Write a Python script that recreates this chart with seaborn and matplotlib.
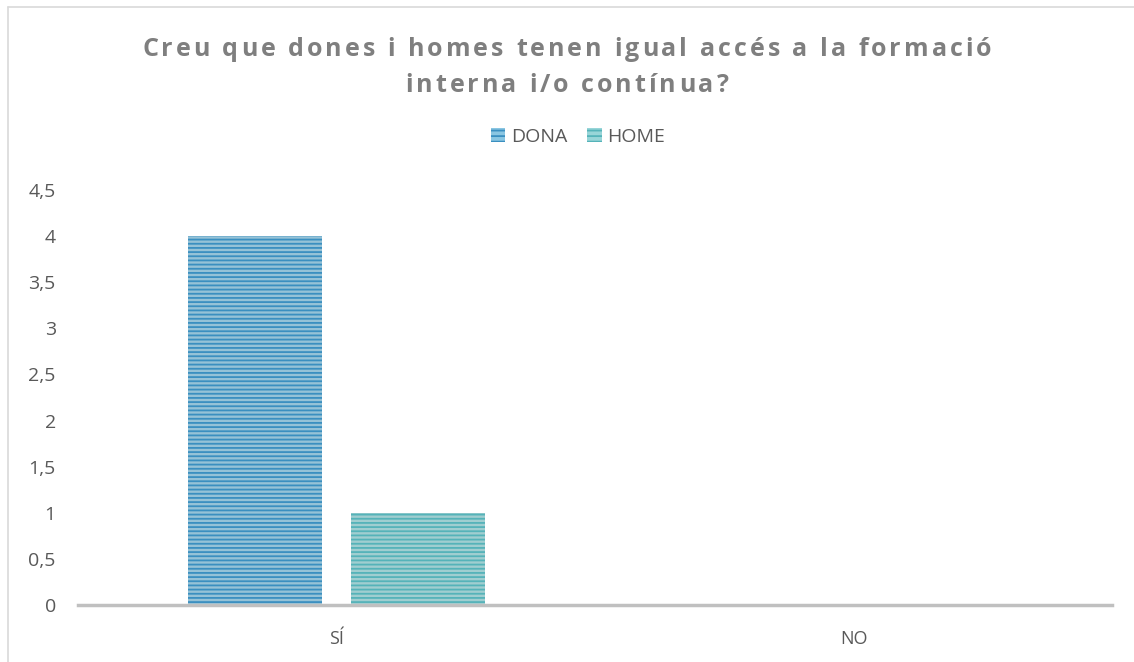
import matplotlib
matplotlib.use("Agg")
import matplotlib.pyplot as plt
import matplotlib.patches as mpatches
import seaborn as sns
import pandas as pd
from matplotlib.lines import Line2D
from matplotlib.ticker import FuncFormatter

categories = ["SÍ", "NO"]
dona = [4, 0]
home = [1, 0]
series_names = ["DONA", "HOME"]
title_lines = ["Creu que dones i homes tenen igual accés a la formació",
               "interna i/o contínua?"]

df = pd.DataFrame({
    "cat": categories * 2,
    "val": dona + home,
    "serie": [series_names[0]] * 2 + [series_names[1]] * 2,
})

sns.set_theme(style="white")
plt.rcParams["font.family"] = ["Open Sans", "DejaVu Sans"]
plt.rcParams["hatch.linewidth"] = 1.3

face = {"DONA": "#8ac6e2", "HOME": "#98d5d8"}
stripe = {"DONA": "#3a8fc0", "HOME": "#55b3b9"}

W, H = 1134, 662
fig = plt.figure(figsize=(W / 100, H / 100), dpi=100)
ax = fig.add_axes([78 / W, 1 - 605 / H, (1112 - 78) / W, (605 - 190) / H])

sns.barplot(data=df, x="cat", y="val", hue="serie", order=categories,
            hue_order=series_names, width=0.63, gap=0.18, ax=ax,
            palette=face, legend=False, errorbar=None)

for patch, s in zip(ax.patches, [series_names[0]] * 2 + [series_names[1]] * 2):
    patch.set_hatch("----")
    patch.set_edgecolor(stripe[s])
    patch.set_linewidth(0)

ax.set_ylim(0, 4.5)
ax.set_yticks([0, 0.5, 1, 1.5, 2, 2.5, 3, 3.5, 4, 4.5])
ax.yaxis.set_major_formatter(FuncFormatter(lambda v, p: (f"{v:g}").replace(".", ",")))
ax.set_xlabel("")
ax.set_ylabel("")
for sp in ["top", "right", "left"]:
    ax.spines[sp].set_visible(False)
ax.spines["bottom"].set_color("#c0c0c0")
ax.spines["bottom"].set_linewidth(2.5)
ax.tick_params(axis="y", length=0, pad=16, labelsize=14, labelcolor="#595959")
ax.tick_params(axis="x", length=0, pad=18, labelsize=13, labelcolor="#595959")

# Title with letter spacing, drawn char by char
renderer = fig.canvas.get_renderer()
tprops = dict(fontsize=18, fontweight="bold", color="#7f7f7f")
spacing = 3.0
line_y = [50, 85]


def text_w(s):
    t = fig.text(0, 0, s + "|", **tprops)
    w = t.get_window_extent(renderer).width
    t.remove()
    t2 = fig.text(0, 0, "|", **tprops)
    w2 = t2.get_window_extent(renderer).width
    t2.remove()
    return w - w2


for line, yp in zip(title_lines, line_y):
    total = text_w(line) + spacing * (len(line) - 1)
    x0 = W / 2 - total / 2
    for i, ch in enumerate(line):
        if ch == " ":
            continue
        xi = x0 + text_w(line[:i]) + spacing * i
        fig.text(xi / W, 1 - yp / H, ch, ha="left", va="center", **tprops)

handles = []
for s in series_names:
    handles.append(mpatches.Patch(facecolor=face[s], edgecolor=stripe[s], hatch="---",
                                  linewidth=0, label=s))
fig.legend(handles=handles, loc="center", bbox_to_anchor=(578 / W, 1 - 137 / H), ncol=2,
           frameon=False, fontsize=14, labelcolor="#595959", handlelength=0.75,
           handleheight=0.75, handletextpad=0.3, columnspacing=1.0)

fig.add_artist(Line2D([8 / W, 8 / W], [0, 1 - 7 / H], transform=fig.transFigure,
                      color="#d9d9d9", linewidth=1.2))
fig.add_artist(Line2D([8 / W, 1], [1 - 7 / H, 1 - 7 / H], transform=fig.transFigure,
                      color="#d9d9d9", linewidth=1.2))

fig.savefig("out.png", dpi=100, facecolor="white")
